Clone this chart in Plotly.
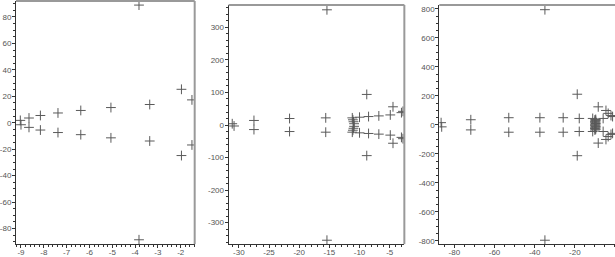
import plotly.graph_objects as go

# ---------- data ----------
# Panel 1
p1_x = [-9.03, -9.0, -8.65, -8.65, -8.15, -8.15, -7.38, -7.38, -6.38, -6.38,
        -5.06, -5.06, -3.36, -3.36, -3.83, -3.83, -1.97, -1.97, -1.51, -1.51]
p1_y = [1.8, -1.5, 3.6, -3.5, 5.5, -5.5, 7.4, -7.4, 9.3, -9.0,
        11.5, -11.4, 13.8, -13.8, 89.0, -88.5, 25.3, -24.8, 17.3, -16.8]

# Panel 2
p2_x = [-31.1, -30.8, -27.5, -27.5, -21.6, -21.6, -15.6, -15.6, -15.4, -15.4,
        -11.2, -11.2, -11.1, -11.1, -11.0, -11.0, -10.9, -10.9,
        -10.0, -10.0, -8.8, -8.8, -8.5, -8.5, -6.8, -6.8, -4.9, -4.9,
        -4.45, -4.45, -3.05, -3.05, -2.8, -2.8]
p2_y = [4, -3, 14, -14, 20, -20, 22, -22, 354, -354,
        22, -22, 16, -16, 10, -10, 4, -4,
        24, -24, 94, -94, 26, -26, 28, -28, 31, -31,
        56, -56, 38, -38, 42, -42]

# Panel 3
p3_x = [-86.6, -86.3, -71.8, -71.8, -52.9, -52.9, -37.4, -37.4, -34.9, -34.9,
        -25.8, -25.8, -17.8, -17.8, -18.8, -18.8,
        -11.1, -11.1, -10.0, -9.6, -10.0, -9.6, -10.0, -9.6, -10.0, -9.6,
        -10.0, -9.6, -10.0, -9.6, -10.0, -9.6, -10.0, -9.6,
        -8.35, -8.35, -5.9, -5.9, -4.5, -4.5, -3.4, -3.4, -2.0, -2.0, -1.2, -1.2]
p3_y = [16, -13, 36, -34, 50, -50, 50, -50, 795, -795,
        50, -50, 45, -45, 212, -212,
        45, -45, 35, 30, 25, 20, 15, 10, 5, 0,
        -5, -10, -15, -20, -25, -30, -35, 38,
        125, -125, 45, -45, 100, -100, 80, -80, 65, -65, 58, -58]

# tick labels
p1_xt = [-9, -8, -7, -6, -5, -4, -3, -2]
p1_yt = [-80, -60, -40, -20, 0, 20, 40, 60, 80]
p2_xt = [-30, -25, -20, -15, -10, -5]
p2_yt = [-300, -200, -100, 0, 100, 200, 300]
p3_xt = [-80, -60, -40, -20]
p3_yt = [-800, -600, -400, -200, 0, 200, 400, 600, 800]


def lab(vals):
    return [str(v) for v in vals]


W, H = 615, 257
fig = go.Figure()

panels = [
    dict(x=p1_x, y=p1_y, xt=p1_xt, yt=p1_yt, xr=[-9.22, -1.39], yr=[-91.8, 92.1],
         xd=[15, 194], top=1, xminor=0.2, yminor=5, right=True),
    dict(x=p2_x, y=p2_y, xt=p2_xt, yt=p2_yt, xr=[-31.7, -2.57], yr=[-366, 369],
         xd=[228, 404], top=5, xminor=1, yminor=20, right=True),
    dict(x=p3_x, y=p3_y, xt=p3_xt, yt=p3_yt, xr=[-87.5, 0], yr=[-822, 828],
         xd=[439, 615], top=5, xminor=5, yminor=50, right=False),
]

tickfont = dict(family="Liberation Sans, Arial, sans-serif", size=8, color="#555")
bottom = 248

for i, p in enumerate(panels, start=1):
    xa = "x" if i == 1 else f"x{i}"
    ya = "y" if i == 1 else f"y{i}"
    fig.add_trace(go.Scatter(
        x=p["x"], y=p["y"], mode="markers", xaxis=xa, yaxis=ya,
        marker=dict(symbol="cross-thin", size=7,
                    line=dict(width=1, color="#5a5a5a")),
        showlegend=False, hoverinfo="skip"))
    common = dict(showline=True, linecolor="#333", linewidth=1, ticks="outside",
                  ticklen=3, tickwidth=1, tickcolor="#333", showgrid=False,
                  zeroline=False, tickfont=tickfont)
    xkey = "xaxis" if i == 1 else f"xaxis{i}"
    ykey = "yaxis" if i == 1 else f"yaxis{i}"
    fig.update_layout({
        xkey: dict(domain=[p["xd"][0] / W, p["xd"][1] / W], range=p["xr"],
                   anchor=ya, tickvals=p["xt"], ticktext=lab(p["xt"]),
                   ticklabelstandoff=-3,
                   minor=dict(ticks="outside", ticklen=2, tickcolor="#333",
                              dtick=p["xminor"], tick0=0),
                   **common),
        ykey: dict(domain=[(H - bottom) / H, (H - p["top"]) / H], range=p["yr"],
                   anchor=xa, tickvals=p["yt"], ticktext=lab(p["yt"]),
                   ticklabelstandoff=-1,
                   minor=dict(ticks="outside", ticklen=2, tickcolor="#333",
                              dtick=p["yminor"], tick0=0),
                   **common),
    })
    fig.add_shape(type="line", xref=f"{xa} domain", yref=f"{ya} domain",
                  x0=0, x1=1, y0=1, y1=1, line=dict(color="#999", width=2))
    if p["right"]:
        fig.add_shape(type="line", xref=f"{xa} domain", yref=f"{ya} domain",
                      x0=1, x1=1, y0=0, y1=1, line=dict(color="#999", width=2))

fig.update_layout(width=W, height=H, margin=dict(l=0, r=0, t=0, b=0),
                  paper_bgcolor="white", plot_bgcolor="white")

fig.write_html("out.html", config={"displayModeBar": False},
               post_script="document.body.style.margin='0';document.body.style.overflow='hidden';")
